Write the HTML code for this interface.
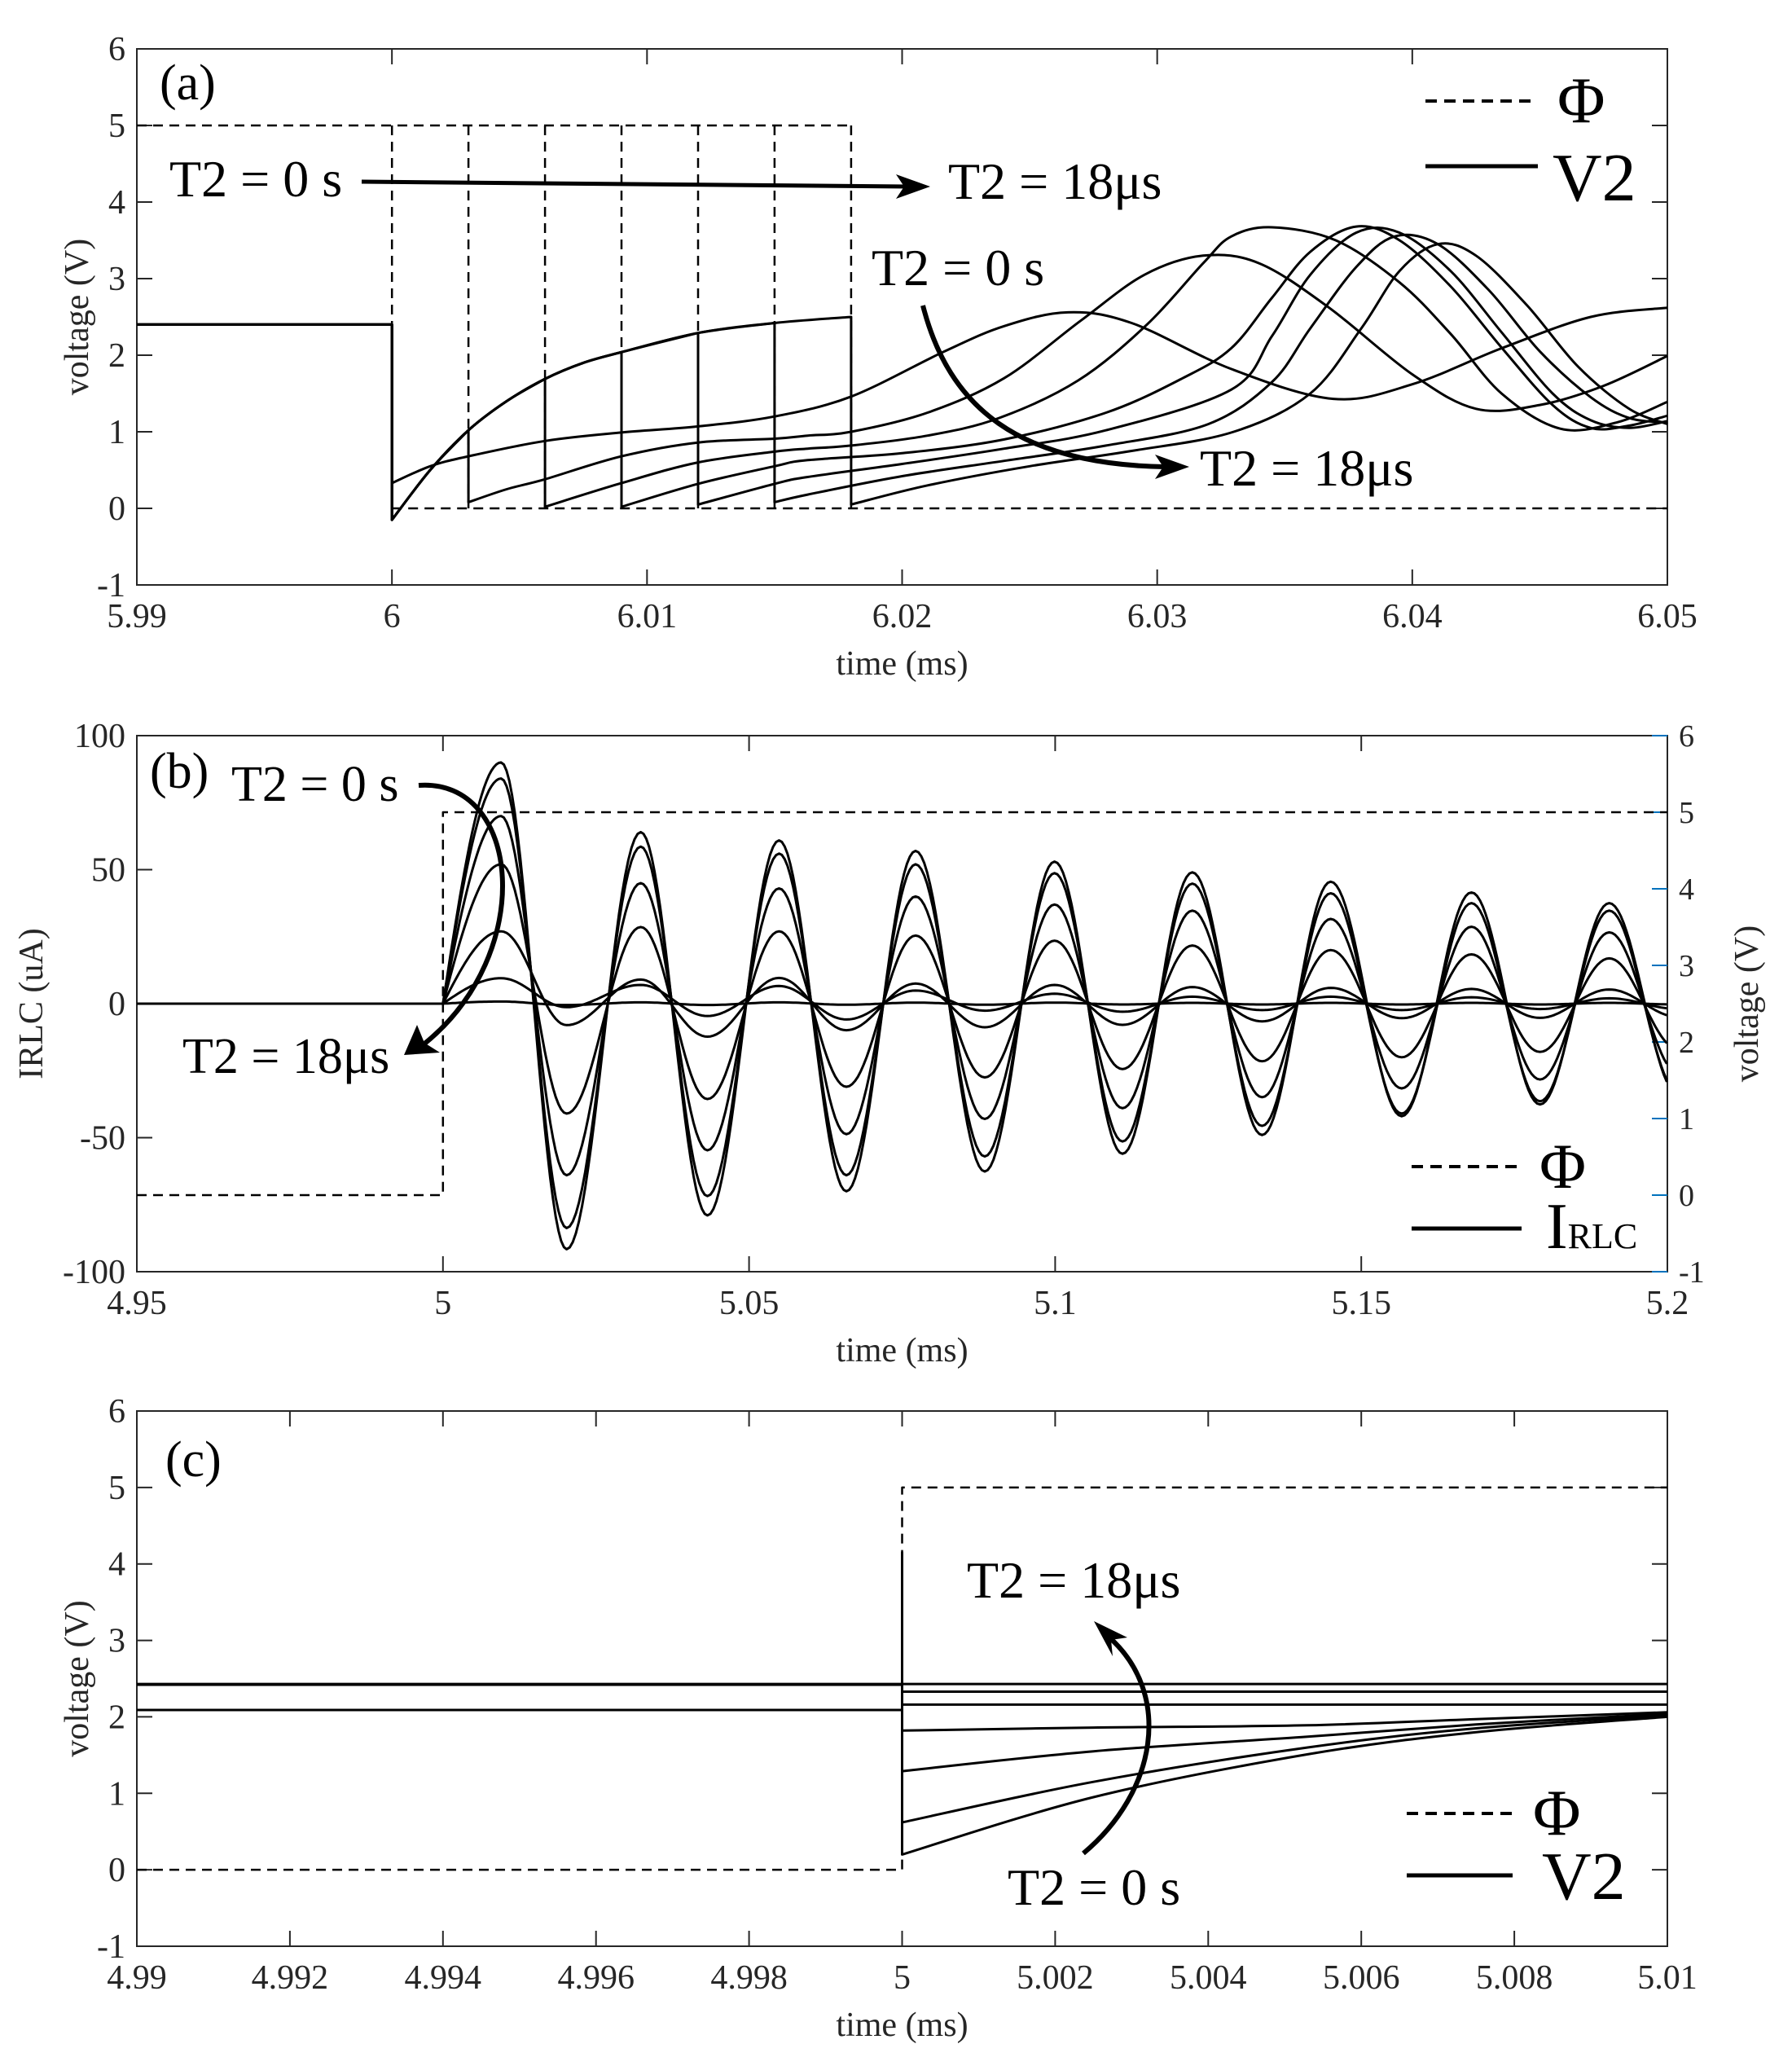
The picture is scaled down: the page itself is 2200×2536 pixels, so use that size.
<!DOCTYPE html>
<html><head><meta charset="utf-8"><style>
html,body{margin:0;padding:0;background:#fff;}
svg{display:block;font-family:"Liberation Serif","DejaVu Serif",serif;}
</style></head><body>
<svg id="fig" xmlns="http://www.w3.org/2000/svg" width="2200" height="2536" viewBox="0 0 2200 2536">
<rect x="0" y="0" width="2200" height="2536" fill="#fff"/>
<g id="layerA"></g>
<g id="layerB"></g>
<g id="layerC"></g>

<text x="196" y="122" font-size="62" fill="#000">(a)</text>
<text x="208" y="241" font-size="64" fill="#000">T2 = 0 s</text>
<line x1="444" y1="223" x2="1115" y2="229" stroke="#000" stroke-width="5"/>
<polygon points="1142,229 1100,214 1110,229 1100,244" fill="#000"/>
<text x="1164" y="244" font-size="64" fill="#000">T2 = 18μs</text>
<text x="1070" y="350" font-size="64" fill="#000">T2 = 0 s</text>
<path d="M1133,375 C1165,500 1250,570 1430,573" fill="none" stroke="#000" stroke-width="6"/>
<polygon points="1460,573 1418,558 1428,573 1418,588" fill="#000"/>
<text x="1473" y="596" font-size="64" fill="#000">T2 = 18μs</text>
<line x1="1750" y1="124" x2="1888" y2="124" stroke="#000" stroke-width="4" stroke-dasharray="14 9"/>
<text x="1912" y="150" font-size="80" fill="#000">Φ</text>
<line x1="1750" y1="204" x2="1888" y2="204" stroke="#000" stroke-width="5"/>
<text x="1906" y="246" font-size="84" fill="#000">V2</text>

<text x="184" y="967" font-size="62" fill="#000">(b)</text>
<text x="284" y="983" font-size="62" fill="#000">T2 = 0 s</text>
<path d="M514,964 C640,955 660,1170 520,1282" fill="none" stroke="#000" stroke-width="6"/>
<polygon points="496,1295 512,1258 521,1280 540,1292" fill="#000"/>
<text x="224" y="1317" font-size="62" fill="#000">T2 = 18μs</text>
<line x1="1733" y1="1432" x2="1868" y2="1432" stroke="#000" stroke-width="4" stroke-dasharray="14 9"/>
<text x="1890" y="1458" font-size="78" fill="#000">Φ</text>
<line x1="1733" y1="1508" x2="1868" y2="1508" stroke="#000" stroke-width="5"/>
<text x="1898" y="1532" font-size="80" fill="#000">I<tspan font-size="44">RLC</tspan></text>

<text x="203" y="1812" font-size="62" fill="#000">(c)</text>
<text x="1187" y="1961" font-size="64" fill="#000">T2 = 18μs</text>
<path d="M1330,2275 C1420,2200 1440,2080 1362,2010" fill="none" stroke="#000" stroke-width="6"/>
<polygon points="1343,1990 1384,2010 1364,2013 1366,2033" fill="#000"/>
<text x="1237" y="2338" font-size="64" fill="#000">T2 = 0 s</text>
<line x1="1727" y1="2226" x2="1857" y2="2226" stroke="#000" stroke-width="4" stroke-dasharray="14 9"/>
<text x="1882" y="2252" font-size="80" fill="#000">Φ</text>
<line x1="1727" y1="2302" x2="1857" y2="2302" stroke="#000" stroke-width="5"/>
<text x="1893" y="2331" font-size="84" fill="#000">V2</text>
</svg>
<script>
// ---------- panel (a) data ----------
const aXTicks = [5.99, 6, 6.01, 6.02, 6.03, 6.04, 6.05];
const aXLabels = ["5.99", "6", "6.01", "6.02", "6.03", "6.04", "6.05"];
const aYTicks = [-1, 0, 1, 2, 3, 4, 5, 6];
const aT2 = [0, 0.003, 0.006, 0.009, 0.012, 0.015, 0.018];
const aPreV = 2.4;
const aChargeT = [6.0, 6.0015, 6.003, 6.0045, 6.006, 6.0075, 6.009, 6.012, 6.015, 6.018];
const aChargeV = [-0.15, 0.5, 1.02, 1.4, 1.69, 1.9, 2.04, 2.29, 2.42, 2.5];
const aTailT0 = [6.0, 6.0015, 6.003, 6.006, 6.009, 6.012, 6.015, 6.018, 6.0216, 6.024, 6.0265, 6.029, 6.0329, 6.0369, 6.040, 6.0435, 6.047, 6.05];
const aTailV0 = [0.33, 0.55, 0.68, 0.88, 0.99, 1.07, 1.2, 1.46, 2.04, 2.38, 2.56, 2.42, 1.82, 1.43, 1.62, 2.09, 2.5, 2.62];
const aTailT3 = [6.003, 6.0045, 6.006, 6.009, 6.012, 6.015, 6.0163, 6.018, 6.021, 6.024, 6.027, 6.0295, 6.0318, 6.034, 6.0367, 6.040, 6.0425, 6.045, 6.0475, 6.05];
const aTailV3 = [0.08, 0.25, 0.38, 0.68, 0.86, 0.91, 0.95, 1.0, 1.25, 1.7, 2.45, 3.05, 3.3, 3.2, 2.63, 1.75, 1.3, 1.35, 1.6, 1.99];
const aTailT6 = [6.006, 6.009, 6.012, 6.015, 6.0163, 6.018, 6.021, 6.0238, 6.0269, 6.0296, 6.0318, 6.0329, 6.0345, 6.037, 6.0395, 6.0415, 6.0435, 6.0458, 6.048, 6.05];
const aTailV6 = [0.02, 0.33, 0.6, 0.74, 0.78, 0.82, 0.95, 1.18, 1.67, 2.4, 3.2, 3.55, 3.67, 3.5, 2.95, 2.28, 1.5, 1.04, 1.12, 1.39];
const aTailT9 = [6.009, 6.012, 6.015, 6.0163, 6.02, 6.024, 6.028, 6.031, 6.0329, 6.0345, 6.036, 6.0378, 6.0395, 6.0415, 6.0435, 6.0455, 6.047, 6.0485, 6.05];
const aTailV9 = [0.02, 0.32, 0.55, 0.63, 0.72, 0.9, 1.25, 1.7, 2.09, 2.75, 3.35, 3.68, 3.5, 2.9, 2.1, 1.35, 1.05, 1.08, 1.21];
const aTailT12 = [6.012, 6.015, 6.0163, 6.02, 6.024, 6.028, 6.0329, 6.0345, 6.036, 6.0378, 6.0395, 6.0415, 6.0435, 6.0455, 6.047, 6.0485, 6.05];
const aTailV12 = [0.05, 0.32, 0.41, 0.58, 0.78, 1.02, 1.55, 2.25, 3.05, 3.6, 3.6, 3.1, 2.3, 1.5, 1.15, 1.05, 1.14];
const aTailT15 = [6.015, 6.0163, 6.02, 6.024, 6.028, 6.032, 6.0345, 6.036, 6.0378, 6.0393, 6.041, 6.043, 6.045, 6.047, 6.0485, 6.05];
const aTailV15 = [0.08, 0.18, 0.42, 0.62, 0.82, 1.1, 1.65, 2.35, 3.15, 3.55, 3.45, 2.85, 2.05, 1.45, 1.18, 1.12];
const aTailT18 = [6.018, 6.021, 6.025, 6.029, 6.033, 6.036, 6.038, 6.0395, 6.041, 6.0425, 6.0445, 6.0465, 6.0485, 6.05];
const aTailV18 = [0.05, 0.3, 0.55, 0.75, 1.0, 1.5, 2.35, 3.1, 3.45, 3.3, 2.65, 1.85, 1.3, 1.1];
const aTailsT = [aTailT0, aTailT3, aTailT6, aTailT9, aTailT12, aTailT15, aTailT18];
const aTailsV = [aTailV0, aTailV3, aTailV6, aTailV9, aTailV12, aTailV15, aTailV18];
const aPhiHigh = 5, aPhiLow = 0, aPhiStep = 6.0;

// ---------- panel (b) data ----------
const bXTicks = [4.95, 5, 5.05, 5.1, 5.15, 5.2];
const bXLabels = ["4.95", "5", "5.05", "5.1", "5.15", "5.2"];
const bYTicksL = [-100, -50, 0, 50, 100];
const bYTicksR = [-1, 0, 1, 2, 3, 4, 5, 6];
const bStart = 5.0;
const bExtT = [5.0095, 5.0202, 5.0323, 5.0432, 5.0549, 5.0659, 5.0772, 5.0885, 5.0999, 5.111, 5.1224, 5.1338, 5.145, 5.1566, 5.168, 5.1792, 5.1905, 5.2018];
const bI1 = [90, -91.6, 64, -79, 60.9, -70, 57, -62.6, 53, -56, 49, -49, 45.5, -42, 41.5, -37.6, 37.5, -34];
const bI2 = [84, -83.7, 58.6, -71.8, 56, -64, 52, -57, 48.7, -51.4, 44.8, -45.6, 41.2, -41, 37.5, -36.4, 34.7, -33];
const bI3 = [70, -64, 45, -54.7, 43, -48.7, 40, -43, 37, -39, 34.7, -34.9, 31.6, -31.6, 28.7, -28.3, 26.6, -26];
const bI4 = [52, -41, 28.6, -35.6, 27, -31, 25.4, -27.5, 23.5, -24.4, 21.7, -21.5, 20, -20, 18.4, -18, 16.9, -17];
const bI5 = [27, -8, 9, -12.3, 9.6, -9.9, 7.5, -8.8, 7, -7.9, 6.2, -6.6, 5.9, -5.4, 5.5, -5.3, 5.3, -5];
const bI6 = [9.5, -1.3, 7, -4.6, 6.6, -5.9, 4.9, -2.6, 3.7, -3, 2.6, -2.4, 2.6, -2.4, 2.4, -2, 2, -2];
const bI7 = [0.8, -0.5, 0.5, -0.5, 0.5, -0.4, 0.4, -0.4, 0.4, -0.3, 0.3, -0.3, 0.3, -0.3, 0.3, -0.3, 0.3, -0.3];
const bSeries = [bI1, bI2, bI3, bI4, bI5, bI6, bI7];
const bPhiLow = 0, bPhiHigh = 5, bPhiStep = 5.0;

// ---------- panel (c) data ----------
const cXTicks = [4.99, 4.992, 4.994, 4.996, 4.998, 5, 5.002, 5.004, 5.006, 5.008, 5.01];
const cXLabels = ["4.99", "4.992", "4.994", "4.996", "4.998", "5", "5.002", "5.004", "5.006", "5.008", "5.01"];
const cYTicks = [-1, 0, 1, 2, 3, 4, 5, 6];
const cT = [5.0, 5.0025, 5.0053, 5.0075, 5.01];
const cPre = [2.43, 2.42, 2.42, 2.42, 2.42, 2.09, 2.42];
const cSpike = 4.15;
const cV1 = [2.43, 2.43, 2.43, 2.43, 2.43];
const cV2 = [2.33, 2.33, 2.33, 2.33, 2.33];
const cV3 = [2.16, 2.16, 2.16, 2.16, 2.16];
const cV4 = [1.82, 1.86, 1.89, 1.97, 2.06];
const cV5 = [1.29, 1.55, 1.74, 1.9, 2.04];
const cV6 = [0.62, 1.15, 1.60, 1.85, 2.02];
const cV7 = [0.2, 0.95, 1.51, 1.8, 2.0];
const cSeries = [cV1, cV2, cV3, cV4, cV5, cV6, cV7];
const cPhiLow = 0, cPhiHigh = 5, cPhiStep = 5.0;

const NS = "http://www.w3.org/2000/svg";
function mk(tag, parent) { const e = document.createElementNS(NS, tag); parent.appendChild(e); return e; }
function scale(d0, d1, r0, r1) { return v => r0 + (v - d0) / (d1 - d0) * (r1 - r0); }

function drawAxes(g, box, sx, sy, xt, xl, yt, yl, rightTicks, prefix) {
  const r = mk('rect', g);
  
  
  r.setAttribute('x', box.x0); r.setAttribute('y', box.y0);
  r.setAttribute('width', box.x1 - box.x0); r.setAttribute('height', box.y1 - box.y0);
  r.setAttribute('fill', 'none'); r.setAttribute('stroke', '#262626'); r.setAttribute('stroke-width', '2');
  xt.forEach((t, i) => {
    const x = sx(t);
    [[box.y1, box.y1 - 19], [box.y0, box.y0 + 19]].forEach(p => {
      const l = mk('line', g);
      
      
      l.setAttribute('x1', x); l.setAttribute('x2', x); l.setAttribute('y1', p[0]); l.setAttribute('y2', p[1]);
      l.setAttribute('stroke', '#262626'); l.setAttribute('stroke-width', '2');
    });
    const tx = mk('text', g);
    
    
    tx.setAttribute('x', x); tx.setAttribute('y', box.y1 + 52);
    tx.setAttribute('text-anchor', 'middle'); tx.setAttribute('font-size', '42'); tx.setAttribute('fill', '#262626');
    tx.textContent = xl[i];
  });
  yt.forEach((v, i) => {
    const y = sy(v);
    const sides = rightTicks ? [[box.x0, box.x0 + 19], [box.x1, box.x1 - 19]] : [[box.x0, box.x0 + 19]];
    sides.forEach(p => {
      const l = mk('line', g);
      
      
      l.setAttribute('x1', p[0]); l.setAttribute('x2', p[1]); l.setAttribute('y1', y); l.setAttribute('y2', y);
      l.setAttribute('stroke', '#262626'); l.setAttribute('stroke-width', '2');
    });
    const tx = mk('text', g);
    
    
    tx.setAttribute('x', box.x0 - 14); tx.setAttribute('y', y + 14);
    tx.setAttribute('text-anchor', 'end'); tx.setAttribute('font-size', '42'); tx.setAttribute('fill', '#262626');
    tx.textContent = yl ? yl[i] : String(v);
  });
  const xl2 = mk('text', g);
  
  
  xl2.setAttribute('x', (box.x0 + box.x1) / 2); xl2.setAttribute('y', box.y1 + 110);
  xl2.setAttribute('text-anchor', 'middle'); xl2.setAttribute('font-size', '42'); xl2.setAttribute('fill', '#262626');
  xl2.textContent = 'time (ms)';
}
function yTitle(g, x, y, txt, name) {
  const t = mk('text', g);
  
  
  t.setAttribute('x', x); t.setAttribute('y', y);
  t.setAttribute('transform', 'rotate(-90 ' + x + ' ' + y + ')');
  t.setAttribute('text-anchor', 'middle'); t.setAttribute('font-size', '42'); t.setAttribute('fill', '#262626');
  t.textContent = txt;
}
function poly(g, pts, name, dashed, w) {
  const p = mk('polyline', g);
  
  
  p.setAttribute('points', pts.map(q => q[0].toFixed(1) + ',' + q[1].toFixed(1)).join(' '));
  p.setAttribute('fill', 'none'); p.setAttribute('stroke', '#000'); p.setAttribute('stroke-width', w || 3);
  p.setAttribute('stroke-linejoin', 'round');
  if (dashed) p.setAttribute('stroke-dasharray', '12 8');
  return p;
}
// smooth path: Catmull-Rom within runs, straight vertical jumps
function smooth(g, pts, name, w) {
  const runs = [[pts[0]]];
  for (let i = 1; i < pts.length; i++) {
    if (Math.abs(pts[i][0] - pts[i - 1][0]) < 0.01) runs.push([pts[i]]);
    else runs[runs.length - 1].push(pts[i]);
  }
  let d = 'M' + pts[0][0].toFixed(1) + ',' + pts[0][1].toFixed(1);
  runs.forEach((run, ri) => {
    if (ri > 0) d += ' L' + run[0][0].toFixed(1) + ',' + run[0][1].toFixed(1);
    for (let i = 0; i < run.length - 1; i++) {
      const p0 = run[Math.max(0, i - 1)], p1 = run[i], p2 = run[i + 1], p3 = run[Math.min(run.length - 1, i + 2)];
      const c1 = [p1[0] + (p2[0] - p0[0]) / 6, p1[1] + (p2[1] - p0[1]) / 6];
      const c2 = [p2[0] - (p3[0] - p1[0]) / 6, p2[1] - (p3[1] - p1[1]) / 6];
      d += ' C' + c1[0].toFixed(1) + ',' + c1[1].toFixed(1) + ' ' + c2[0].toFixed(1) + ',' + c2[1].toFixed(1) + ' ' + p2[0].toFixed(1) + ',' + p2[1].toFixed(1);
    }
  });
  const p = mk('path', g);
  
  
  p.setAttribute('d', d);
  p.setAttribute('fill', 'none'); p.setAttribute('stroke', '#000'); p.setAttribute('stroke-width', w || 3);
  p.setAttribute('stroke-linejoin', 'round');
  return p;
}

// ---------- panel (a) ----------
(function () {
  const g = document.getElementById('layerA');
  const box = { x0: 168, x1: 2047, y0: 60, y1: 718 };
  const sx = scale(5.99, 6.05, box.x0, box.x1), sy = scale(-1, 6, box.y1, box.y0);
  drawAxes(g, box, sx, sy, aXTicks, aXLabels, aYTicks, null, true, 'a');
  yTitle(g, 108, (box.y0 + box.y1) / 2, 'voltage (V)', 'a-y-axis-title');
  const last = aPhiStep + aT2[aT2.length - 1];
  poly(g, [[sx(5.99), sy(aPhiHigh)], [sx(last), sy(aPhiHigh)]], 'a-phi-top', true, 2.5);
  poly(g, [[sx(aPhiStep), sy(aPhiLow)], [sx(6.05), sy(aPhiLow)]], 'a-phi-bottom', true, 2.5);
  aT2.forEach(d => { poly(g, [[sx(aPhiStep + d), sy(aPhiHigh)], [sx(aPhiStep + d), sy(aPhiLow)]], 'a-phi-edge', true, 2.5); });
  aT2.forEach((d, k) => {
    const pts = [[sx(5.99), sy(aPreV)], [sx(6.0), sy(aPreV)]];
    if (d > 0) aChargeT.forEach((t, i) => { if (t <= 6.0 + d + 1e-9) pts.push([sx(t), sy(aChargeV[i])]); });
    aTailsT[k].forEach((t, i) => pts.push([sx(t), sy(aTailsV[k][i])]));
    smooth(g, pts, 'a-v2-curve-t2-' + Math.round(d * 1000), 3);
  });
})();

// ---------- panel (b) ----------
(function () {
  const g = document.getElementById('layerB');
  const box = { x0: 168, x1: 2047, y0: 903, y1: 1561 };
  const sx = scale(4.95, 5.2, box.x0, box.x1), sy = scale(-100, 100, box.y1, box.y0), syR = scale(-1, 6, box.y1, box.y0);
  drawAxes(g, box, sx, sy, bXTicks, bXLabels, bYTicksL, null, false, 'b');
  yTitle(g, 52, (box.y0 + box.y1) / 2, 'IRLC (uA)', 'b-y-axis-title-left');
  bYTicksR.forEach(v => {
    const y = syR(v);
    const l = mk('line', g);
    
    
    l.setAttribute('x1', box.x1); l.setAttribute('x2', box.x1 - 19); l.setAttribute('y1', y); l.setAttribute('y2', y);
    l.setAttribute('stroke', '#0072BD'); l.setAttribute('stroke-width', '2');
    const t = mk('text', g);
    
    
    t.setAttribute('x', box.x1 + 14); t.setAttribute('y', y + 13);
    t.setAttribute('font-size', '38'); t.setAttribute('fill', '#262626');
    t.textContent = String(v);
  });
  yTitle(g, 2158, (box.y0 + box.y1) / 2, 'voltage (V)', 'b-y-axis-title-right');
  poly(g, [[sx(4.95), syR(bPhiLow)], [sx(bPhiStep), syR(bPhiLow)], [sx(bPhiStep), syR(bPhiHigh)], [sx(5.2), syR(bPhiHigh)]], 'b-phi-line', true, 2.5);
  bSeries.forEach((vals, k) => {
    const pts = [[sx(4.95), sy(0)], [sx(bStart), sy(0)]];
    const N = 24;
    for (let j = 1; j <= N; j++) {
      const t = bStart + (bExtT[0] - bStart) * j / N;
      pts.push([sx(t), sy(vals[0] * Math.sin(Math.PI / 2 * j / N))]);
    }
    for (let i = 0; i < vals.length - 1; i++) {
      const a = vals[i], b = vals[i + 1], t0 = bExtT[i], t1 = bExtT[i + 1];
      for (let j = 1; j <= N; j++) {
        const t = t0 + (t1 - t0) * j / N;
        if (t > 5.2) break;
        pts.push([sx(t), sy((a + b) / 2 + (a - b) / 2 * Math.cos(Math.PI * j / N))]);
      }
    }
    poly(g, pts, 'b-irlc-curve-' + (k + 1), false, 3);
  });
})();

// ---------- panel (c) ----------
(function () {
  const g = document.getElementById('layerC');
  const box = { x0: 168, x1: 2047, y0: 1732, y1: 2389 };
  const sx = scale(4.99, 5.01, box.x0, box.x1), sy = scale(-1, 6, box.y1, box.y0);
  drawAxes(g, box, sx, sy, cXTicks, cXLabels, cYTicks, null, true, 'c');
  yTitle(g, 108, (box.y0 + box.y1) / 2, 'voltage (V)', 'c-y-axis-title');
  poly(g, [[sx(4.99), sy(cPhiLow)], [sx(cPhiStep), sy(cPhiLow)], [sx(cPhiStep), sy(cPhiHigh)], [sx(5.01), sy(cPhiHigh)]], 'c-phi-line', true, 2.5);
  cSeries.forEach((vals, k) => {
    const pts = [[sx(4.99), sy(cPre[k])], [sx(5.0), sy(cPre[k])]];
    if (k === cSeries.length - 1) pts.push([sx(5.0), sy(cSpike)]);
    cT.forEach((t, i) => pts.push([sx(t), sy(vals[i])]));
    smooth(g, pts, 'c-v2-curve-' + (k + 1), 3);
  });
})();
</script>
</body></html>
